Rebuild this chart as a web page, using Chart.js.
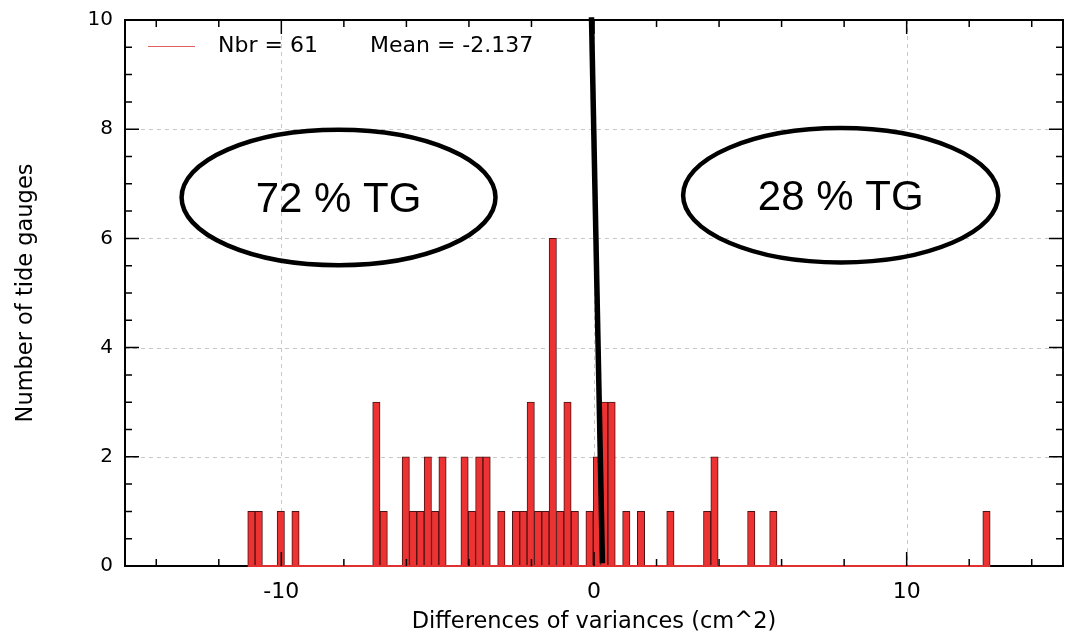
<!DOCTYPE html>
<html><head><meta charset="utf-8">
<script src="https://cdn.jsdelivr.net/npm/chart.js@4"></script>
<style>html,body{margin:0;padding:0;background:#fff}#wrap{width:1069px;height:637px}</style>
</head><body><div id="wrap"><canvas id="c" width="1069" height="637"></canvas></div>
<script>
// ---- data ----
const binStart = -11.075;       // left edge of first histogram bin
const binWidth = 0.2351;        // histogram bin width
const counts = [
  1,1,0,0,1,0,1,0,0,0,
  0,0,0,0,0,0,0,3,1,0,
  0,2,1,1,2,1,2,0,0,2,
  1,2,2,0,1,0,1,1,3,1,
  1,6,1,3,1,0,1,2,3,3,
  0,1,0,1,0,0,0,1,0,0,
  0,0,1,2,0,0,0,0,1,0,
  0,1,0,0,0,0,0,0,0,0,
  0,0,0,0,0,0,0,0,0,0,
  0,0,0,0,0,0,0,0,0,0,
  1
];
const xTickValues = [-10, 0, 10];
const yTickValues = [0, 2, 4, 6, 8, 10];
const legendTexts = ['Nbr = 61', 'Mean = -2.137'];
const regionLabels = ['72 % TG', '28 % TG'];
const regionCentersX = [-8.17, 7.89];
const regionCentersY = [6.75, 6.79];
const regionRadiiX = [5.02, 5.04];
const regionRadiiY = [1.24, 1.23];
const dividerX = [-0.08, 0.27];
const dividerY = [10.05, 0.05];
const xTitle = 'Differences of variances (cm^2)';
const yTitle = 'Number of tide gauges';

const FONT = "'DejaVu Sans', sans-serif";

const histData = counts.map((c, i) => ({x: binStart + (i + 0.5) * binWidth, y: c}));
const baseline = [{x: binStart, y: 0}, {x: binStart + counts.length * binWidth, y: 0}];
const divider = dividerX.map((x, i) => ({x: x, y: dividerY[i]}));

const framePlugin = {
  id: 'frame',
  beforeDatasetsDraw(chart) {
    const {ctx, chartArea: a, scales: {x, y}} = chart;
    ctx.save();
    ctx.strokeStyle = '#c8c8c8';
    ctx.lineWidth = 1;
    ctx.setLineDash([4, 4]);
    xTickValues.forEach(v => {
      const px = Math.round(x.getPixelForValue(v)) + 0.5;
      ctx.beginPath(); ctx.moveTo(px, a.top); ctx.lineTo(px, a.bottom); ctx.stroke();
    });
    yTickValues.forEach(v => {
      if (v === y.min || v === y.max) return;
      const py = Math.round(y.getPixelForValue(v)) + 0.5;
      ctx.beginPath(); ctx.moveTo(a.left, py); ctx.lineTo(a.right, py); ctx.stroke();
    });
    ctx.setLineDash([]);
    ctx.strokeStyle = '#000';
    ctx.lineWidth = 2;
    ctx.strokeRect(a.left, a.top, a.right - a.left, a.bottom - a.top);
    ctx.restore();
  },
  afterDatasetsDraw(chart) {
    const {ctx, chartArea: a, scales: {x, y}} = chart;
    ctx.save();
    // inward ticks
    ctx.strokeStyle = '#000';
    ctx.lineWidth = 1.5;
    for (let v = -14; v <= 14; v += 2) {
      const len = (v % 10 === 0) ? 14 : 7;
      const px = x.getPixelForValue(v);
      ctx.beginPath();
      ctx.moveTo(px, a.bottom); ctx.lineTo(px, a.bottom - len);
      ctx.moveTo(px, a.top); ctx.lineTo(px, a.top + len);
      ctx.stroke();
    }
    for (let k = 1; k < 20; k++) {
      const v = k * 0.5;
      const len = (k % 4 === 0) ? 14 : 7;
      const py = y.getPixelForValue(v);
      ctx.beginPath();
      ctx.moveTo(a.left, py); ctx.lineTo(a.left + len, py);
      ctx.moveTo(a.right, py); ctx.lineTo(a.right - len, py);
      ctx.stroke();
    }
    // legend
    const ly = a.top + 26;
    ctx.strokeStyle = '#e06060';
    ctx.lineWidth = 1;
    ctx.beginPath(); ctx.moveTo(a.left + 23, ly + 0.5); ctx.lineTo(a.left + 70, ly + 0.5); ctx.stroke();
    ctx.fillStyle = '#000';
    ctx.font = '22px ' + FONT;
    ctx.textBaseline = 'middle';
    ctx.textAlign = 'left';
    ctx.fillText(legendTexts[0], a.left + 93, ly);
    ctx.fillText(legendTexts[1], a.left + 245, ly);
    // region ellipses
    ctx.lineWidth = 4.5;
    ctx.strokeStyle = '#000';
    ctx.font = "42px 'Liberation Sans', Arial, sans-serif";
    ctx.textAlign = 'center';
    regionLabels.forEach((lab, i) => {
      const cx = x.getPixelForValue(regionCentersX[i]);
      const cy = y.getPixelForValue(regionCentersY[i]);
      const rx = x.getPixelForValue(regionCentersX[i] + regionRadiiX[i]) - cx;
      const ry = cy - y.getPixelForValue(regionCentersY[i] + regionRadiiY[i]);
      ctx.beginPath();
      ctx.ellipse(cx, cy, rx, ry, 0, 0, Math.PI * 2);
      ctx.stroke();
      ctx.fillText(lab, cx, cy + 3);
    });
    ctx.restore();
  }
};

new Chart(document.getElementById('c'), {
  type: 'bar',
  data: {
    datasets: [
      {
        type: 'bar',
        data: histData,
        backgroundColor: '#ec3232',
        borderColor: '#4d1111',
        borderWidth: ctx => (ctx.raw && ctx.raw.y > 0) ? 1 : 0,
        borderSkipped: false,
        barPercentage: 1,
        categoryPercentage: 1,
        order: 3
      },
      {
        type: 'line',
        data: baseline,
        borderColor: '#e03030',
        borderWidth: 2,
        pointRadius: 0,
        fill: false,
        clip: false,
        order: 2
      },
      {
        type: 'line',
        data: divider,
        borderColor: '#000',
        borderWidth: 5.5,
        pointRadius: 0,
        fill: false,
        clip: false,
        order: 1
      }
    ]
  },
  options: {
    responsive: false,
    animation: false,
    devicePixelRatio: 1,
    layout: {padding: {top: 20, right: 6, left: 0, bottom: 0}},
    plugins: {legend: {display: false}, tooltip: {enabled: false}},
    scales: {
      x: {
        type: 'linear',
        min: -15, max: 15,
        offset: false,
        grid: {display: false, drawTicks: false},
        border: {display: false},
        afterBuildTicks: s => { s.ticks = xTickValues.map(v => ({value: v})); },
        afterFit: s => { s.height = 71; s.paddingLeft = 0; s.paddingRight = 0; },
        ticks: {
          padding: 13,
          color: '#000',
          font: {family: FONT, size: 22}
        },
        title: {display: true, text: xTitle, color: '#000', font: {family: FONT, size: 22.5}, padding: {top: 0, bottom: 1}}
      },
      y: {
        type: 'linear',
        min: 0, max: 10,
        grid: {display: false, drawTicks: false},
        border: {display: false},
        afterBuildTicks: s => { s.ticks = yTickValues.map(v => ({value: v})); },
        afterFit: s => { s.width = 125; s.paddingTop = 0; s.paddingBottom = 0; },
        ticks: {padding: 12, color: '#000', font: {family: FONT, size: 20}},
        title: {display: true, text: yTitle, color: '#000', font: {family: FONT, size: 22.5}, padding: {top: 13, bottom: 0}}
      }
    }
  },
  plugins: [framePlugin]
});
</script>
</body></html>
